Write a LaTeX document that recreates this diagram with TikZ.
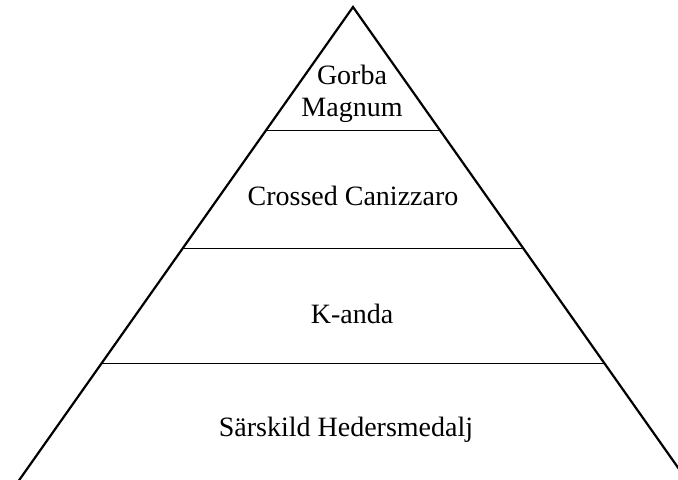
\documentclass[tikz,border=0pt]{standalone}
\usepackage{fontspec}
\setmainfont{Liberation Serif}

\begin{document}
\begin{tikzpicture}[x=0.5pt, y=-0.5pt, font=\fontsize{14}{16}\selectfont]
    \useasboundingbox (0,0) rectangle (678,479);
    \clip (0,0) rectangle (678,479);
    \coordinate (apex) at (353,7);
    \coordinate (baseL) at (15,486);
    \coordinate (baseR) at (691,486);
    \draw[line width=1.1pt] (baseL) -- (apex) -- (baseR);
    \path (apex) -- (baseL) coordinate[pos=0.257] (l1) coordinate[pos=0.504] (l2) coordinate[pos=0.745] (l3);
    \path (apex) -- (baseR) coordinate[pos=0.257] (r1) coordinate[pos=0.504] (r2) coordinate[pos=0.745] (r3);
    \draw[line width=0.55pt] (l1) -- (r1);
    \draw[line width=0.55pt] (l2) -- (r2);
    \draw[line width=0.55pt] (l3) -- (r3);
    \node[align=center] (gorba) at (352,94) {Gorba\\Magnum};
    \node (crossed) at (353,196) {Crossed Canizzaro};
    \node (kanda) at (352,314) {K-anda};
    \node (sarskild) at (346,430) {Särskild Hedersmedalj};
\end{tikzpicture}
\end{document}
